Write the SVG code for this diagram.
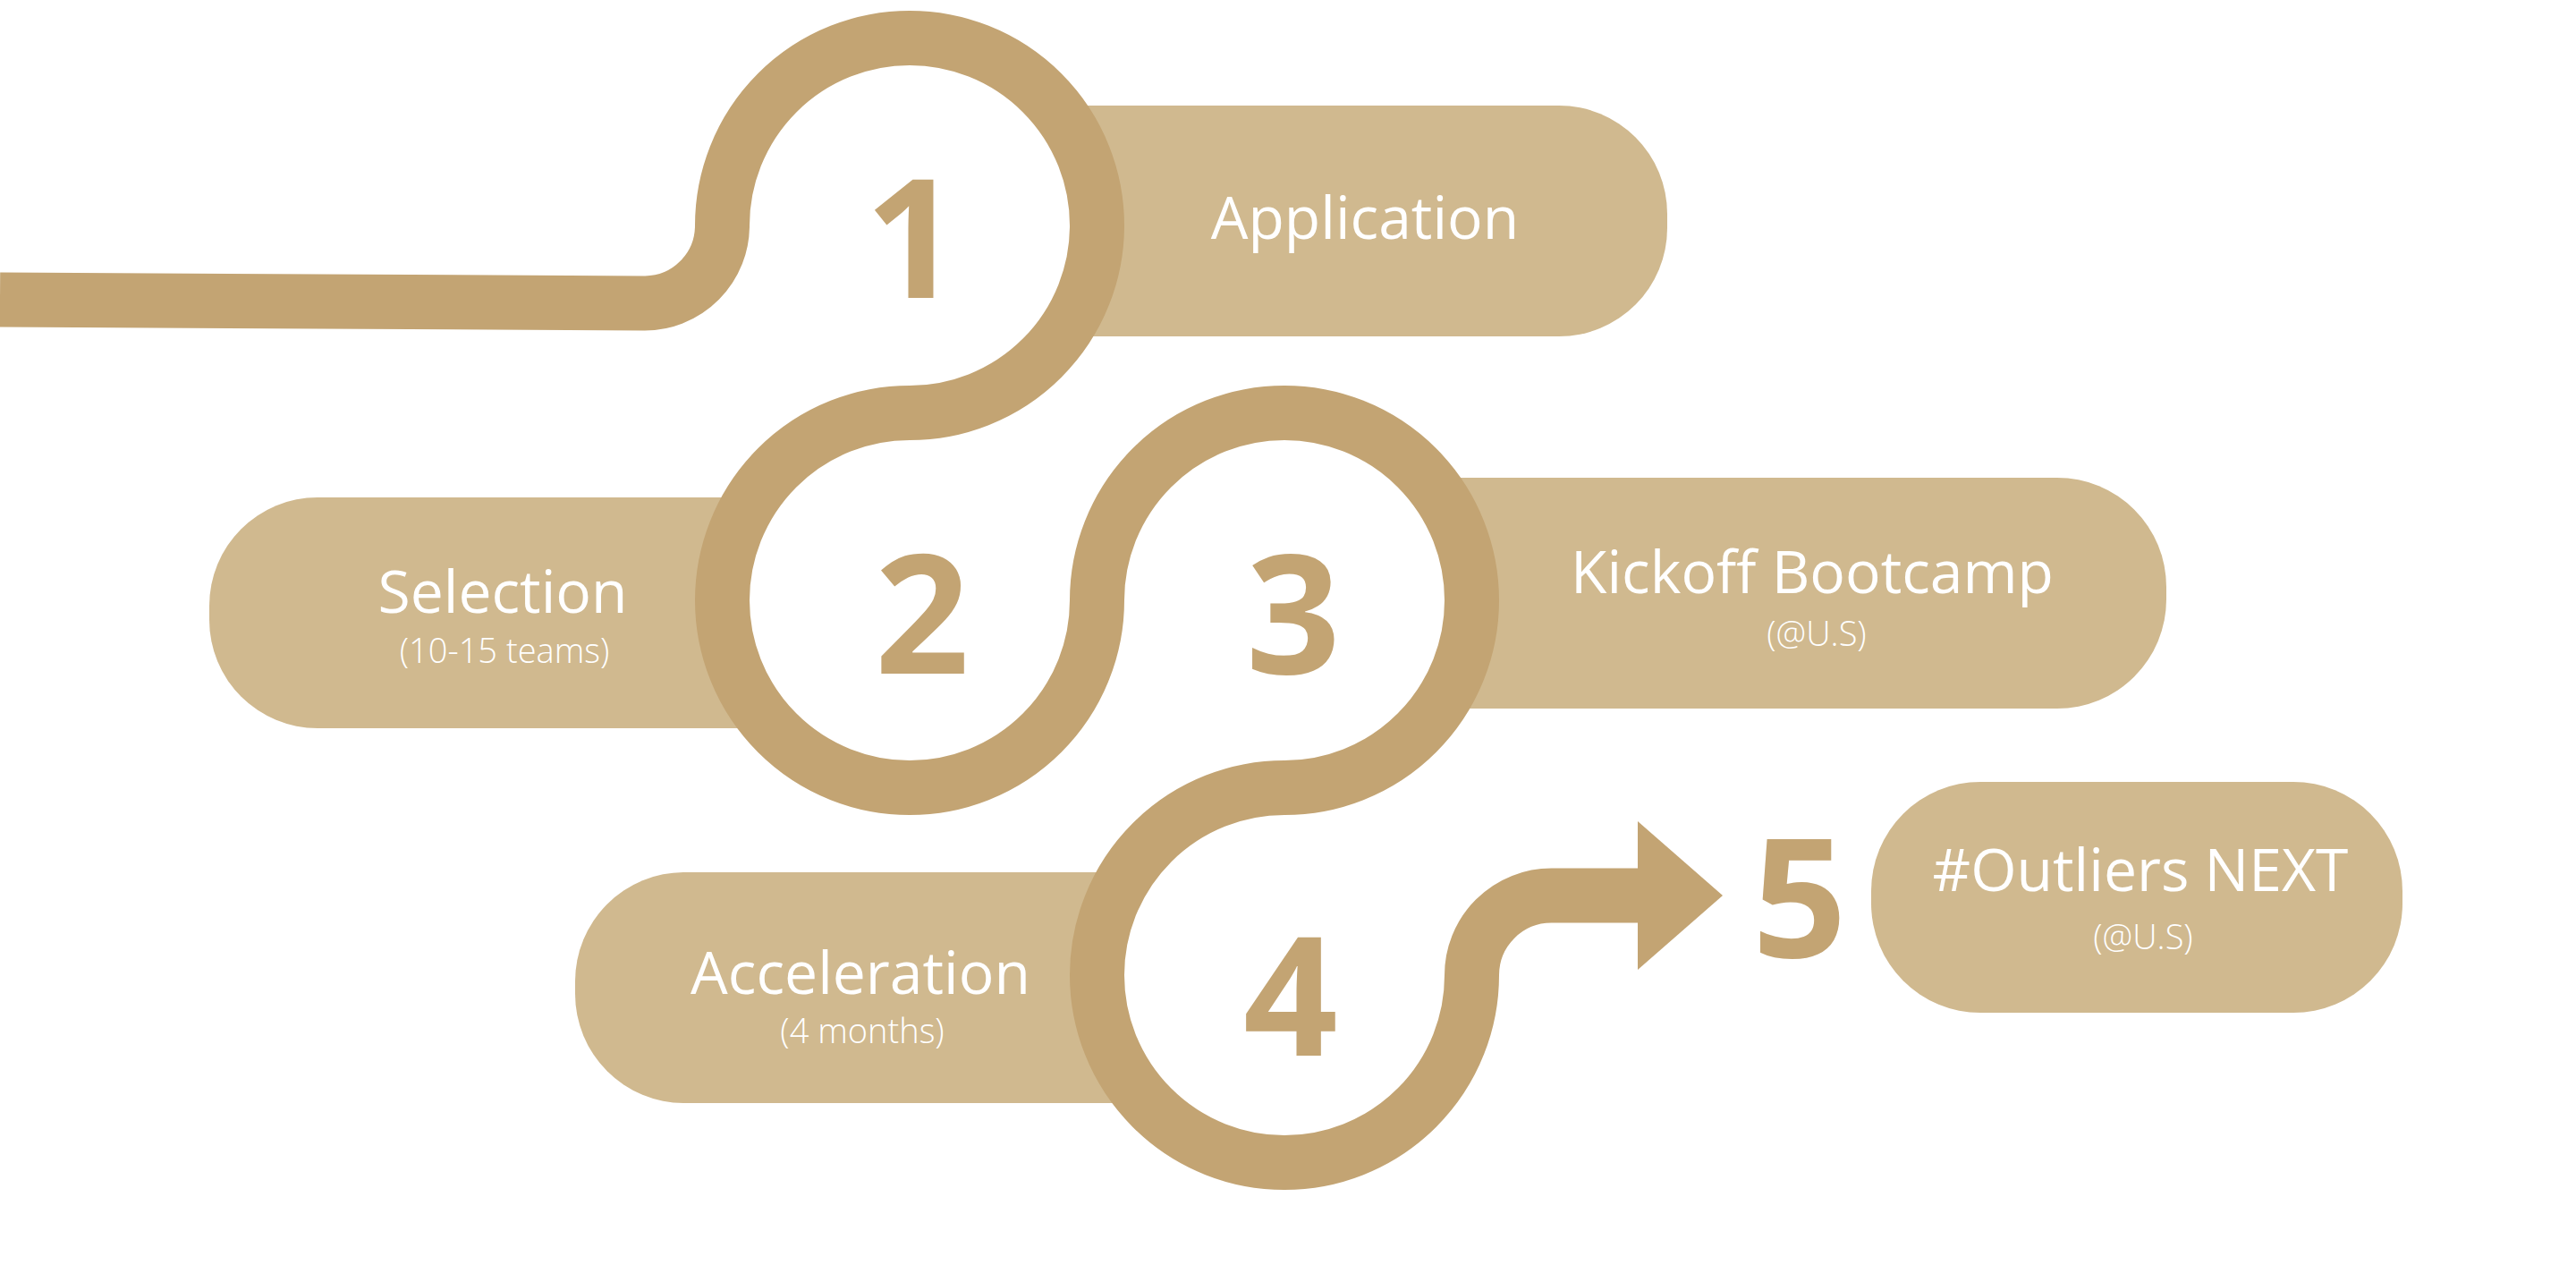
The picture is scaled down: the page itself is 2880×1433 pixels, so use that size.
<svg xmlns="http://www.w3.org/2000/svg" width="2880" height="1433" viewBox="0 0 2880 1433">
<style>
.box{fill:#D0B98F}
.hole{fill:#FFFFFF}
.track{fill:none;stroke:#C3A473;stroke-width:61;stroke-linejoin:round}
.head{fill:#C3A473}
.num{font-family:"Open Sans","Noto Sans",sans-serif;font-weight:700;font-size:185px;fill:#C3A473;text-anchor:middle}
.title{font-family:"Open Sans","Noto Sans",sans-serif;font-weight:400;font-size:66px;fill:#FFFFFF;text-anchor:middle}
.sub{font-family:"Open Sans","Noto Sans",sans-serif;font-weight:300;font-size:38px;fill:#FFFFFF;text-anchor:middle}
</style>
<rect width="2880" height="1433" fill="#FFFFFF"/>
<g id="boxes">
<path id="box-application" class="box" d="M1100 118 H1743 A121 121 0 0 1 1864 239 V255 A121 121 0 0 1 1743 376 H1100 Z"/>
<path id="box-selection" class="box" d="M950 556 H355 A121 121 0 0 0 234 677 V693 A121 121 0 0 0 355 814 H950 Z"/>
<path id="box-kickoff" class="box" d="M1500 534 H2300 A122 122 0 0 1 2422 656 V670 A122 122 0 0 1 2300 792 H1500 Z"/>
<path id="box-acceleration" class="box" d="M1370 975 H765 A122 122 0 0 0 643 1097 V1111 A122 122 0 0 0 765 1233 H1370 Z"/>
<rect id="box-outliers" class="box" x="2092" y="874" width="594" height="258" rx="122" ry="122"/>
</g>
<g id="holes">
<circle class="hole" cx="1017" cy="252" r="180"/>
<circle class="hole" cx="1017" cy="671" r="180"/>
<circle class="hole" cx="1436" cy="671" r="180"/>
<circle class="hole" cx="1436" cy="1090" r="180"/>
</g>
<g id="connectors">
<path class="track" d="M0 335 L721 339 A87 87 0 0 0 807.5 252 A209.5 209.5 0 1 1 1017 461.5 A209.5 209.5 0 1 0 1226.5 671 A209.5 209.5 0 1 1 1436 880.5 A209.5 209.5 0 1 0 1645.5 1090 A89 89 0 0 1 1734.5 1001 L1836 1001"/>
<polygon class="head" points="1831,918 1926,1001 1831,1084"/>
</g>
<g id="node-1">
<text class="num" x="1020" y="333">1</text>
<text class="title" x="1526" y="267">Application</text>
</g>
<g id="node-2">
<text class="num" x="1031" y="753">2</text>
<text class="title" x="562" y="685">Selection</text>
<text class="sub" x="564" y="741">(10-15 teams)</text>
</g>
<g id="node-3">
<text class="num" x="1446" y="753">3</text>
<text class="title" x="2026" y="663">Kickoff Bootcamp</text>
<text class="sub" x="2031" y="722">(@U.S)</text>
</g>
<g id="node-4">
<text class="num" x="1443" y="1180">4</text>
<text class="title" x="962" y="1111">Acceleration</text>
<text class="sub" x="964" y="1166">(4 months)</text>
</g>
<g id="node-5">
<text class="num" x="2012" y="1070">5</text>
<text class="title" x="2393" y="996">#Outliers NEXT</text>
<text class="sub" x="2396" y="1061">(@U.S)</text>
</g>
</svg>
